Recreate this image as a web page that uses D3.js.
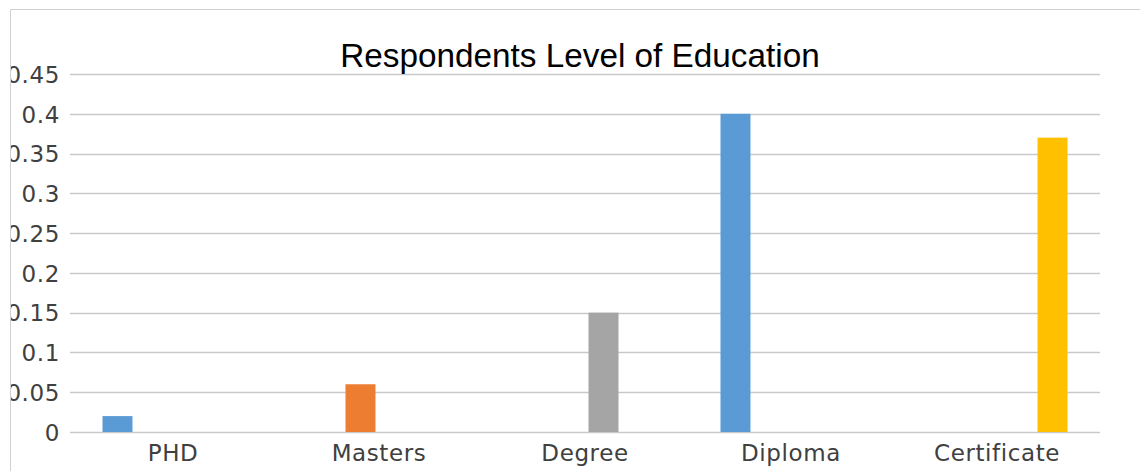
<!DOCTYPE html>
<html>
<head>
<meta charset="utf-8">
<script src="https://cdn.jsdelivr.net/npm/d3@7"></script>
<style>
  html, body { margin: 0; padding: 0; background: #fff; }
  svg { display: block; }
</style>
</head>
<body>
<svg id="chart" width="1140" height="471"></svg>
<script>
// ---- Data ----
const categories = ["PHD", "Masters", "Degree", "Diploma", "Certificate"];
const seriesNames = ["Series1", "Series2", "Series3", "Series4"];
const seriesColors = ["#5B9BD5", "#ED7D31", "#A5A5A5", "#FFC000"];
// values per series, aligned with categories (null = no bar)
const series1 = [0.02, null, null, 0.40, null];
const series2 = [null, 0.06, null, null, null];
const series3 = [null, null, 0.15, null, null];
const series4 = [null, null, null, null, 0.37];
const yTicks = [0, 0.05, 0.1, 0.15, 0.2, 0.25, 0.3, 0.35, 0.4, 0.45];
const titleText = "Respondents Level of Education";

const allSeries = [series1, series2, series3, series4];

const svg = d3.select("#chart");
const W = 1140, H = 471;
const plot = { left: 70, right: 1100, top: 74, bottom: 432 };

// frame
svg.append("line").attr("x1", 10.5).attr("x2", 10.5).attr("y1", 9.5).attr("y2", H)
  .attr("stroke", "#d0d0d0").attr("stroke-width", 1);
svg.append("line").attr("x1", 10.5).attr("x2", W).attr("y1", 9.5).attr("y2", 9.5)
  .attr("stroke", "#d0d0d0").attr("stroke-width", 1);

svg.append("defs").append("clipPath").attr("id", "clip")
  .append("rect").attr("x", 11).attr("y", 10).attr("width", W - 11).attr("height", H - 10);

const g = svg.append("g").attr("clip-path", "url(#clip)");

const y = d3.scaleLinear().domain([0, 0.45]).range([plot.bottom, plot.top]);
const x0 = d3.scaleBand().domain(categories).range([plot.left, plot.right]).padding(0);
const x1 = d3.scaleBand().domain(d3.range(seriesNames.length))
  .range([0, x0.bandwidth()]).paddingInner(0.19).paddingOuter(0.878);

// gridlines
g.append("g").selectAll("line").data(yTicks).join("line")
  .attr("x1", plot.left).attr("x2", plot.right)
  .attr("y1", d => Math.round(y(d)) + 0.5).attr("y2", d => Math.round(y(d)) + 0.5)
  .attr("stroke", "#c9c9c9").attr("stroke-width", 1.3);

// y axis labels
const yAxis = d3.axisLeft(y).tickValues(yTicks).tickSize(0).tickPadding(0)
  .tickFormat(d => d3.format("")(+d.toFixed(2)));
const ya = g.append("g").attr("transform", `translate(${plot.left - 10},0)`).call(yAxis);
ya.select(".domain").remove();
ya.selectAll("text")
  .attr("font-family", "DejaVu Sans, sans-serif").attr("font-size", 23)
  .attr("letter-spacing", "0.6px")
  .attr("fill", "#404040").attr("dy", "0.36em");

// bars
const bars = [];
allSeries.forEach((vals, si) => {
  vals.forEach((v, ci) => {
    if (v !== null) bars.push({ s: si, c: categories[ci], v });
  });
});
g.append("g").selectAll("rect").data(bars).join("rect")
  .attr("x", d => x0(d.c) + x1(d.s))
  .attr("width", x1.bandwidth())
  .attr("y", d => y(d.v))
  .attr("height", d => y(0) - y(d.v))
  .attr("fill", d => seriesColors[d.s]);

// x axis labels
const xAxis = d3.axisBottom(x0).tickSize(0).tickPadding(0);
const xa = g.append("g").attr("transform", `translate(0,${plot.bottom})`).call(xAxis);
xa.select(".domain").remove();
xa.selectAll("text")
  .attr("font-family", "DejaVu Sans, sans-serif").attr("font-size", 23)
  .attr("letter-spacing", "0.6px")
  .attr("fill", "#404040").attr("dy", "1.26em");

// title
svg.append("text").attr("x", 580).attr("y", 67)
  .attr("text-anchor", "middle")
  .attr("font-family", "Liberation Sans, Arial, sans-serif")
  .attr("font-size", 33.3).attr("fill", "#000")
  .text(titleText);
</script>
</body>
</html>
